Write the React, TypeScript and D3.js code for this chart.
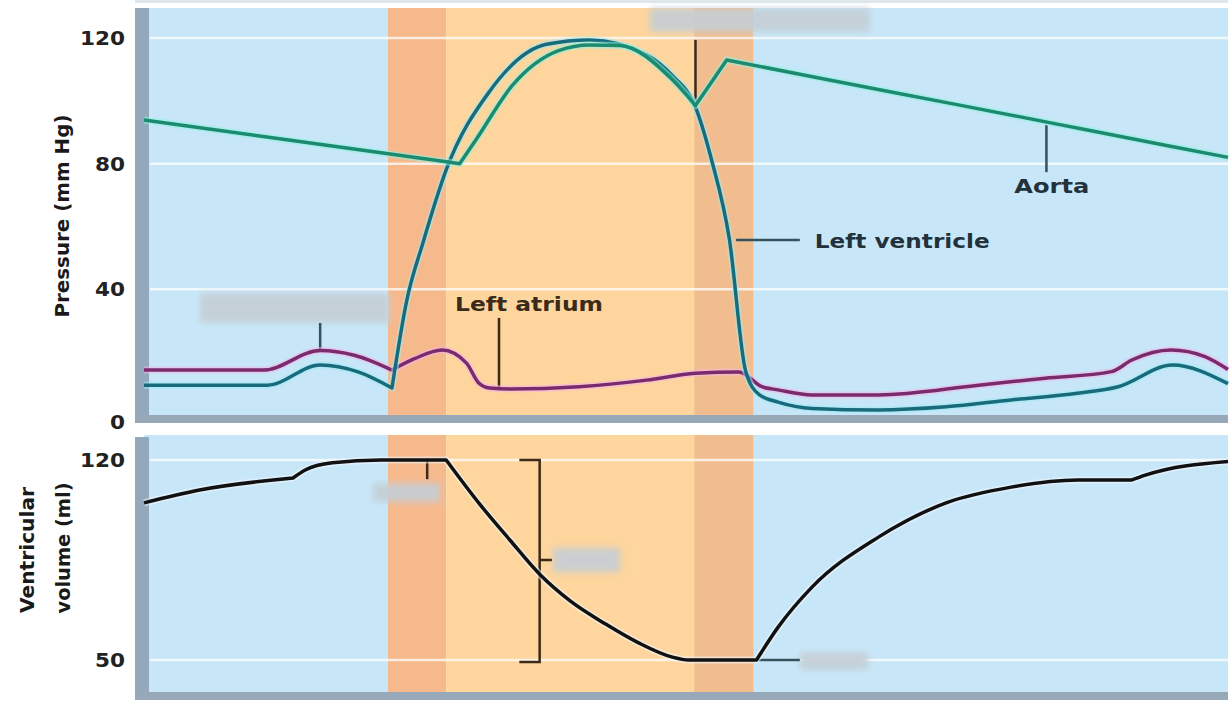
import * as d3 from "d3";

type Pt = [number, number];

// one cardiac cycle, time in ms
const phaseBounds = [0, 180, 223, 406, 450, 800];
const pressureTicks = [0, 40, 80, 120];
const volumeTicks = [50, 120];

// pressure (mm Hg) vs time (ms)
const aortaPressure: Pt[] = [
  [0, 93.9], [100, 87.9], [233, 80], [245, 87.6], [272, 105], [306, 116],
  [329, 117.8], [351, 117.6], [390, 106.7], [407, 98.5], [430, 113],
  [500, 107.1], [600, 98.8], [700, 90.4], [800, 82],
];

const ventriclePressure: Pt[] = [
  [0, 9.5], [91, 9.5], [130, 15.9], [158, 13.7], [183, 8.6], [194, 36.6],
  [206, 55], [223, 78], [255, 103], [297, 118], [329, 119.4], [371, 114.6],
  [390, 108], [407, 98], [419, 81], [432, 56], [444, 14], [454, 6.5],
  [468, 4.1], [493, 2.1], [542, 1.6], [592, 2.6], [640, 4.8], [689, 6.9],
  [719, 9], [759, 15.9], [800, 10],
];

const atriumPressure: Pt[] = [
  [0, 14.3], [88, 14.3], [130, 20.5], [155, 19], [166, 17.5], [183, 14.3],
  [200, 18], [220, 20.7], [238, 16.5], [247, 10.2], [255, 8.6], [270, 8.3],
  [321, 9], [371, 11.1], [407, 13.3], [439, 13.7], [456, 9], [468, 8],
  [493, 6.4], [542, 6.4], [616, 9.5], [665, 11.7], [714, 13.8], [729, 17.5],
  [758, 20.7], [783, 18.6], [800, 14.5],
];

// ventricular volume (ml) vs time (ms)
const ventricleVolume: Pt[] = [
  [0, 105], [41, 109.5], [110, 113.7], [119, 116.5], [139, 119], [175, 120],
  [223, 120], [247, 105], [270, 92], [292, 80], [315, 70.5], [341, 62.5],
  [365, 56], [390, 51], [402, 50], [452, 50], [468, 61.5], [493, 75.5],
  [542, 93], [592, 105], [640, 110.5], [689, 113], [729, 113], [739, 114.7],
  [800, 119.5],
];

// times where a trace has a sharp corner
const aortaCorners = [233, 407, 430];
const ventricleCorners = [183];
const atriumCorners = [183];
const volumeCorners = [110, 223, 452, 729];

const bandFills = ["#c7e7f8", "#f6b98c", "#fdd59d", "#f2bd8e", "#c7e7f8"];
const FONT = "DejaVu Sans, Arial, sans-serif";

// smooth between corners, sharp at corners
function cornered(line: d3.Line<Pt>, pts: Pt[], corners: number[]) {
  const segs: Pt[][] = [[]];
  pts.forEach((p) => {
    segs[segs.length - 1].push(p);
    if (corners.includes(p[0])) segs.push([p]);
  });
  return segs
    .filter((s) => s.length > 1)
    .map((s, i) => {
      const d = line(s) ?? "";
      return i === 0 ? d : "L" + d.slice(1);
    })
    .join("");
}

export default function App() {
  const x = d3.scaleLinear().domain([0, 800]).range([144, 1228]);
  const yP = d3.scaleLinear().domain([0, 120]).range([415, 38]);
  const yV = d3.scaleLinear().domain([50, 120]).range([660, 460]);

  const top = { y0: 8, y1: 415 };
  const bot = { y0: 435, y1: 692 };

  const pLine = d3
    .line<Pt>()
    .x((d) => x(d[0]))
    .y((d) => yP(d[1]))
    .curve(d3.curveMonotoneX);
  const vLine = d3
    .line<Pt>()
    .x((d) => x(d[0]))
    .y((d) => yV(d[1]))
    .curve(d3.curveMonotoneX);

  const bands = (p: { y0: number; y1: number }) =>
    phaseBounds.slice(0, -1).map((t0, i) => (
      <rect
        key={i}
        x={x(t0)}
        y={p.y0}
        width={x(phaseBounds[i + 1]) - x(t0)}
        height={p.y1 - p.y0}
        fill={bandFills[i]}
      />
    ));

  const curve = (d: string, color: string, halo: string, key: string) => (
    <g key={key}>
      <path d={d} fill="none" stroke={halo} strokeWidth={7} opacity={0.55} strokeLinejoin="round" />
      <path d={d} fill="none" stroke={color} strokeWidth={3.5} strokeLinejoin="round" />
    </g>
  );

  const brown = "#3d2a18";
  const slate = "#35505e";

  const hidden = [
    [650, 8, 220, 24],
    [200, 293, 190, 30],
    [373, 483, 67, 19],
    [553, 548, 67, 24],
    [800, 652, 68, 18],
  ];

  return (
    <svg
      width={1230}
      height={706}
      style={{ position: "absolute", left: 0, top: 0, fontFamily: FONT }}
    >
      <defs>
        <filter id="blur" x="-20%" y="-50%" width="140%" height="200%">
          <feGaussianBlur stdDeviation={3} />
        </filter>
      </defs>
      <rect x={0} y={0} width={1230} height={706} fill="#fff" />
      <rect x={135} y={0} width={1093} height={3} fill="#dfe6ec" />

      {/* panels */}
      {bands(top)}
      {bands(bot)}

      {/* gridlines */}
      {pressureTicks.filter((v) => v > 0).map((v) => (
        <line key={"gp" + v} x1={150} x2={1228} y1={yP(v)} y2={yP(v)} stroke="#fff" strokeWidth={2.5} opacity={0.75} />
      ))}
      {volumeTicks.map((v) => (
        <line key={"gv" + v} x1={150} x2={1228} y1={yV(v)} y2={yV(v)} stroke="#fff" strokeWidth={2.5} opacity={0.75} />
      ))}

      {/* frame strips */}
      <rect x={135} y={top.y0} width={14} height={top.y1 - top.y0 + 8} fill="#93a8bb" />
      <rect x={135} y={top.y1} width={1093} height={8} fill="#97a9b9" />
      <rect x={135} y={bot.y0 + 2} width={14} height={bot.y1 - bot.y0 + 6} fill="#93a8bb" />
      <rect x={135} y={bot.y1} width={1093} height={8} fill="#97a9b9" />

      {/* masked labels */}
      {hidden.map(([hx, hy, hw, hh], i) => (
        <rect key={"h" + i} x={hx} y={hy} width={hw} height={hh} fill="#c5ced6" opacity={0.9} filter="url(#blur)" />
      ))}

      {/* pointer lines */}
      <g strokeWidth={2.5}>
        <line x1={x(407)} x2={x(407)} y1={yP(119.4)} y2={yP(100)} stroke={brown} />
        <line x1={x(130)} x2={x(130)} y1={yP(29.3)} y2={yP(20.7)} stroke={slate} />
        <line x1={x(262)} x2={x(262)} y1={yP(30.9)} y2={yP(8.4)} stroke={brown} />
        <line x1={x(666)} x2={x(666)} y1={yP(92.3)} y2={yP(77.3)} stroke={slate} />
        <line x1={x(437)} x2={x(484)} y1={yP(55.7)} y2={yP(55.7)} stroke={slate} />
        <line x1={x(209)} x2={x(209)} y1={yV(120)} y2={yV(113.3)} stroke={brown} />
        <path
          d={`M${x(277)},${yV(120)}H${x(292)}V${yV(49.3)}H${x(277)}M${x(292)},${yV(85)}H${x(301)}`}
          fill="none"
          stroke={brown}
        />
        <line x1={x(452)} x2={x(484)} y1={yV(50)} y2={yV(50)} stroke={slate} />
      </g>

      {/* curves */}
      {curve(cornered(pLine, atriumPressure, atriumCorners), "#7a2b6e", "#f4b4ea", "la")}
      {curve(cornered(pLine, ventriclePressure, ventricleCorners), "#186b7a", "#9eeaf4", "lv")}
      {curve(cornered(pLine, aortaPressure, aortaCorners), "#1b8a6e", "#8ff2e0", "ao")}
      {curve(cornered(vLine, ventricleVolume, volumeCorners), "#111", "#eef6fb", "vol")}

      {/* tick labels */}
      <g fontWeight="bold" fontSize={20} fill="#222" textAnchor="end">
        {pressureTicks.map((v) => (
          <text
            key={"tp" + v}
            x={125}
            y={yP(v) + (v === 0 ? 7 : 0)}
            dominantBaseline="central"
            textLength={String(v).length * 15}
            lengthAdjust="spacingAndGlyphs"
          >
            {v}
          </text>
        ))}
        {volumeTicks.map((v) => (
          <text
            key={"tv" + v}
            x={125}
            y={yV(v)}
            dominantBaseline="central"
            textLength={String(v).length * 15}
            lengthAdjust="spacingAndGlyphs"
          >
            {v}
          </text>
        ))}
      </g>

      {/* axis titles */}
      <g fontWeight="bold" fontSize={20} fill="#1a1a1a" textAnchor="middle" dominantBaseline="central">
        <text transform="translate(62,216) rotate(-90)" textLength={203} lengthAdjust="spacingAndGlyphs">
          Pressure (mm Hg)
        </text>
        <text transform="translate(27,550) rotate(-90)" textLength={126} lengthAdjust="spacingAndGlyphs">
          Ventricular
        </text>
        <text transform="translate(63,548) rotate(-90)" textLength={131} lengthAdjust="spacingAndGlyphs">
          volume (ml)
        </text>
      </g>

      {/* curve labels */}
      <g fontWeight="bold" fontSize={20}>
        <text x={x(229.5)} y={yP(33.1)} fill="#3a2a1a" textLength={148} lengthAdjust="spacingAndGlyphs">
          Left atrium
        </text>
        <text x={x(670)} y={yP(70.7)} fill="#22313a" textAnchor="middle" textLength={75} lengthAdjust="spacingAndGlyphs">
          Aorta
        </text>
        <text x={x(495)} y={yP(53.2)} fill="#22313a" textLength={175} lengthAdjust="spacingAndGlyphs">
          Left ventricle
        </text>
      </g>
    </svg>
  );
}
